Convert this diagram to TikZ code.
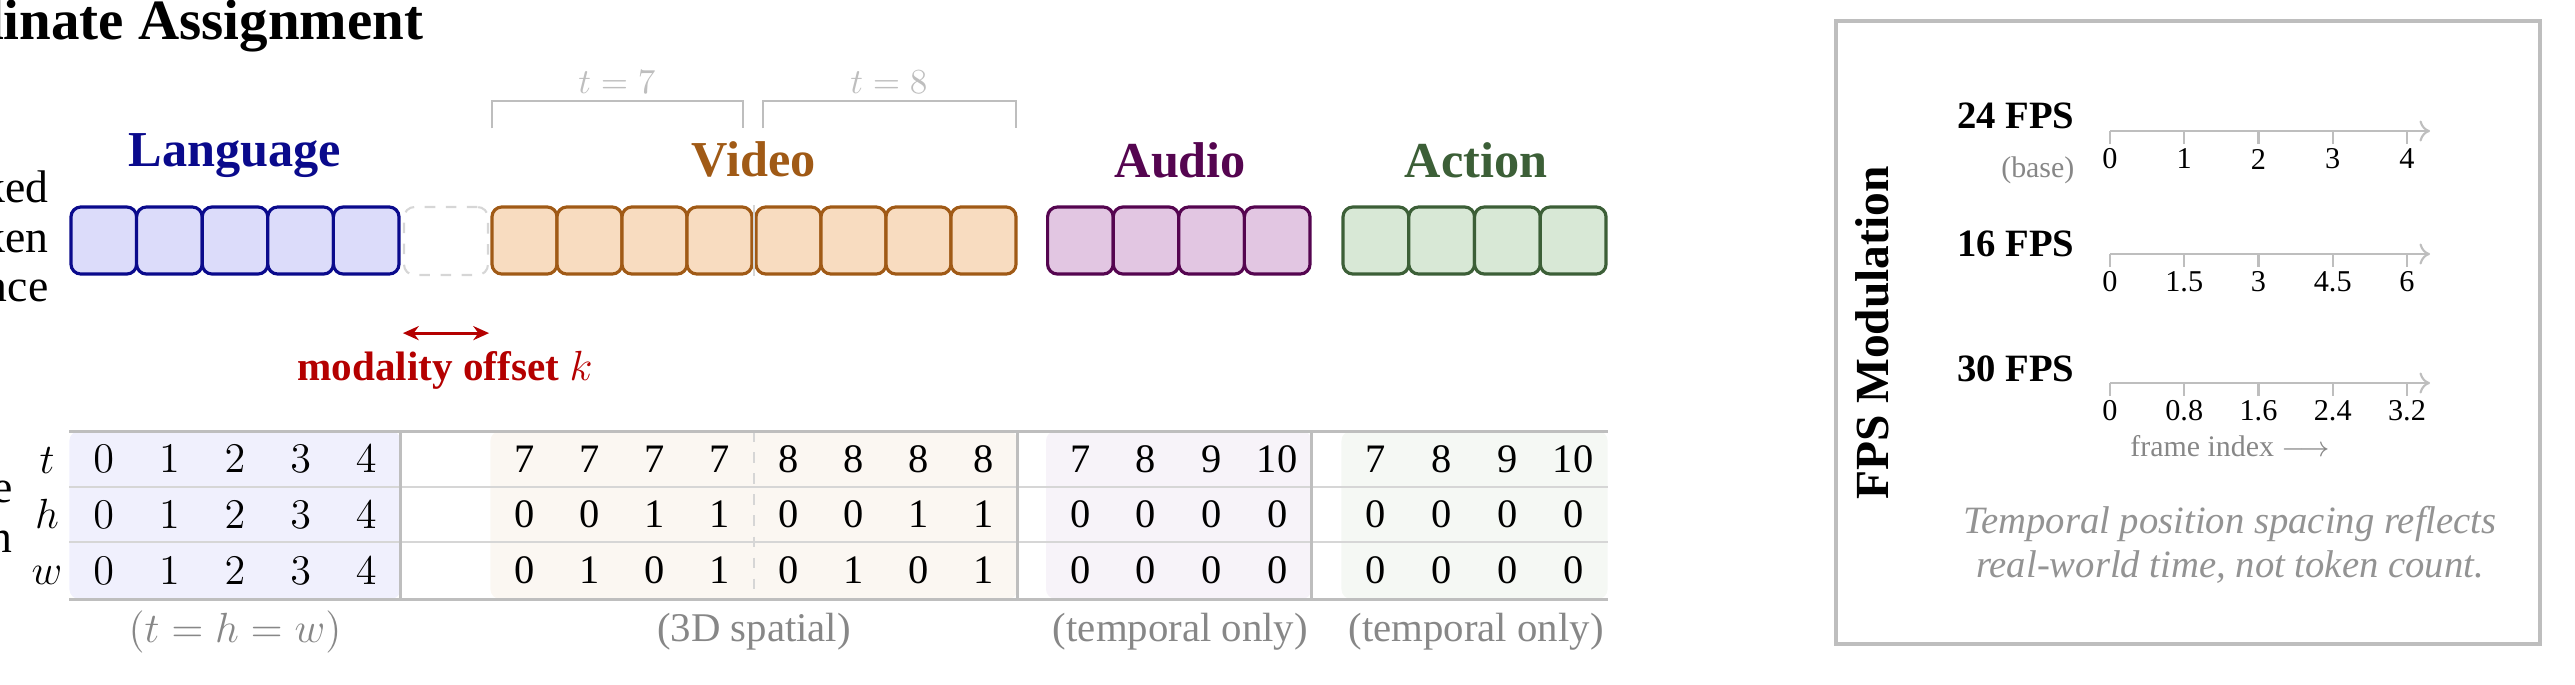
\documentclass[tikz,border=0pt]{standalone}
\usepackage{fontspec}
\setmainfont{Liberation Serif}
\usepackage{amsmath}
\usetikzlibrary{arrows.meta, positioning, calc}
\definecolor{mynavy}{RGB}{10,10,140}
\definecolor{myorange}{RGB}{160,90,22}
\definecolor{myplum}{RGB}{85,5,80}
\definecolor{mygreen}{RGB}{60,95,55}
\definecolor{myred}{RGB}{180,0,0}
\definecolor{mygray}{RGB}{190,190,190}
\definecolor{mylight}{RGB}{214,214,214}
\definecolor{mytext}{RGB}{135,135,135}
\definecolor{tokblue}{RGB}{220,220,250}
\definecolor{tokorange}{RGB}{248,220,192}
\definecolor{tokplum}{RGB}{226,198,226}
\definecolor{tokgreen}{RGB}{216,232,214}
\definecolor{tabblue}{RGB}{240,240,253}
\definecolor{taborange}{RGB}{251,247,242}
\definecolor{tabplum}{RGB}{247,243,249}
\definecolor{tabgreen}{RGB}{245,248,244}
\tikzset{
  tok/.style={draw, rectangle, rounded corners=2.8pt, line width=0.9pt, minimum width=0.65cm, minimum height=0.67cm, inner sep=0pt},
  langtok/.style={tok, draw=mynavy, fill=tokblue, minimum width=0.656cm},
  vidtok/.style={tok, draw=myorange, fill=tokorange},
  audtok/.style={tok, draw=myplum, fill=tokplum, minimum width=0.656cm},
  acttok/.style={tok, draw=mygreen, fill=tokgreen, minimum width=0.6575cm},
  gaptok/.style={tok, draw=mylight, line width=0.6pt, dash pattern=on 3pt off 3pt, rounded corners=3pt, minimum width=0.84cm, minimum height=0.68cm},
  grouplabel/.style={font=\fontsize{14.3}{16}\selectfont\bfseries, inner sep=0pt},
  titlelbl/.style={font=\fontsize{16.2}{18}\selectfont\bfseries, inner sep=0pt},
  sidelbl/.style={font=\fontsize{13}{14.2}\selectfont, align=right, inner sep=0pt},
  framelbl/.style={font=\fontsize{10}{12}\selectfont, text=mygray, inner sep=0pt},
  bracket/.style={draw=mygray, line width=0.6pt},
  offarrow/.style={draw=myred, line width=0.85pt, {Stealth[length=4.5pt,width=4pt]}-{Stealth[length=4.5pt,width=4pt]}},
  offlbl/.style={font=\fontsize{11.7}{13}\selectfont\bfseries, text=myred, inner sep=0pt},
  num/.style={font=\fontsize{11.5}{13}\selectfont, inner sep=0pt},
  rowlbl/.style={font=\fontsize{13}{15}\selectfont, anchor=base, inner sep=0pt},
  caption/.style={font=\fontsize{11.6}{13}\selectfont, text=mytext, inner sep=0pt},
  tabrule/.style={draw=mygray, line width=0.85pt},
  rowrule/.style={draw=mylight, line width=0.45pt},
  coldiv/.style={draw=mygray, line width=0.7pt},
  framediv/.style={draw=mylight, line width=0.5pt, dashed},
  panel/.style={draw=mygray, line width=0.9pt},
  paneltitle/.style={font=\fontsize{13.5}{15}\selectfont\bfseries, inner sep=0pt},
  fpslbl/.style={font=\fontsize{11}{13}\selectfont\bfseries, anchor=base east, inner sep=0pt},
  smallgray/.style={font=\fontsize{8.5}{10}\selectfont, text=mytext, inner sep=0pt},
  axisline/.style={draw=mygray, line width=0.6pt},
  ticklbl/.style={font=\fontsize{8.6}{10}\selectfont, inner sep=0pt},
  note/.style={font=\fontsize{11}{12.5}\selectfont\itshape, text=mytext!90, align=center, inner sep=0pt}
}

\begin{document}
\begin{tikzpicture}[x=0.01cm, y=-0.01cm]
  \useasboundingbox (0,0) rectangle (2575,684);
  \clip (0,0) rectangle (2575,684);

  % title and side labels
  \node[titlelbl, anchor=base east] (title) at (424,39) {Coordinate Assignment};
  \node[sidelbl, anchor=east] (seqlbl) at (49,241) {Packed\\Token\\Sequence};
  \node[sidelbl, anchor=east] (poslbl) at (13,512) {Coordinate\\Position};

  % token sequence
  \foreach \i in {1,...,5}
    \node[langtok] (lang\i) at ({103.8+(\i-1)*65.6},240.5) {};
  \foreach \i in {1,...,8}
    \node[vidtok] (vid\i) at ({524.5+(\i-1)*65+4*(\i>4)},240.5) {};
  \foreach \i in {1,...,4}
    \node[audtok] (aud\i) at ({1080.4+(\i-1)*65.6},240.5) {};
  \foreach \i in {1,...,4}
    \node[acttok] (act\i) at ({1375.9+(\i-1)*65.75},240.5) {};
  \node[gaptok] (gap) at (446,241) {};
  \coordinate (vidmid) at ($(vid4.east)!0.5!(vid5.west)$);
  \draw[framediv, solid] (vidmid |- vid4.north) -- (vidmid |- vid4.south);

  \node[grouplabel, text=mynavy, above=0.27cm of lang3] (langlbl) {Language};
  \node[grouplabel, text=myorange, above=0.27cm of vid4.north east] (vidlbl) {Video};
  \node[grouplabel, text=myplum, above=0.27cm of aud2.north east] (audlbl) {Audio};
  \node[grouplabel, text=mygreen, above=0.27cm of act2.north east] (actlbl) {Action};

  % frame brackets
  \draw[bracket] ($(vid1.north west)+(1.5,-77)$) -- ++(0,-27) -| ($(vid4.north east)+(-11,-77)$);
  \draw[bracket] ($(vid5.north west)+(9,-77)$) -- ++(0,-27) -| ($(vid8.north east)+(-1.5,-77)$);
  \node[framelbl] (t7lbl) at (617,82) {$t=7$};
  \node[framelbl] (t8lbl) at (889,82) {$t=8$};

  % modality offset
  \coordinate (offL) at ([yshift=-0.57cm]gap.south west);
  \coordinate (offR) at ([yshift=-0.57cm]gap.south east);
  \draw[offarrow] (offL) -- (offR);
  \node[offlbl] (offtxt) at (445,370) {modality offset $k$};

  % position table
  \coordinate (tabtop) at (0,431);
  \coordinate (tabbot) at (0,599);
  \coordinate (rowa) at (0,487);
  \coordinate (rowb) at (0,542);
  \coordinate (trow) at (0,459);
  \coordinate (hrow) at (0,514.5);
  \coordinate (wrow) at (0,570.5);
  \fill[tabblue, rounded corners=2.8pt] (lang1.west |- tabtop) rectangle (lang5.east |- tabbot);
  \fill[taborange, rounded corners=2.8pt] (vid1.west |- tabtop) rectangle (vid8.east |- tabbot);
  \fill[tabplum, rounded corners=2.8pt] (aud1.west |- tabtop) rectangle (aud4.east |- tabbot);
  \fill[tabgreen, rounded corners=2.8pt] (act1.west |- tabtop) rectangle (act4.east |- tabbot);
  \draw[rowrule] (lang1.west |- rowa) -- (act4.east |- rowa);
  \draw[rowrule] (lang1.west |- rowb) -- (act4.east |- rowb);
  \draw[framediv] (vidmid |- tabtop) -- (vidmid |- tabbot);
  \draw[coldiv] (lang5.east |- tabtop) -- (lang5.east |- tabbot);
  \draw[coldiv] (vid8.east |- tabtop) -- (vid8.east |- tabbot);
  \draw[coldiv] (aud4.east |- tabtop) -- (aud4.east |- tabbot);
  \draw[tabrule] (lang1.west |- tabtop) -- (act4.east |- tabtop);
  \draw[tabrule] (lang1.west |- tabbot) -- (act4.east |- tabbot);

  \node[rowlbl] (tlbl) at (47,473) {$t$};
  \node[rowlbl] (hlbl) at (47,528.5) {$h$};
  \node[rowlbl] (wlbl) at (47,584.5) {$w$};

  \foreach \v [count=\i] in {0,1,2,3,4} {
    \node[num] (lt\i) at (lang\i |- trow) {$\v$};
    \node[num] (lh\i) at (lang\i |- hrow) {$\v$};
    \node[num] (lw\i) at (lang\i |- wrow) {$\v$};
  }
  \foreach \a/\b/\c [count=\i] in {7/0/0,7/0/1,7/1/0,7/1/1,8/0/0,8/0/1,8/1/0,8/1/1} {
    \node[num] (vt\i) at (vid\i |- trow) {\a};
    \node[num] (vh\i) at (vid\i |- hrow) {\b};
    \node[num] (vw\i) at (vid\i |- wrow) {\c};
  }
  \foreach \a [count=\i] in {7,8,9,10} {
    \node[num] (at\i) at (aud\i |- trow) {\a};
    \node[num] (ah\i) at (aud\i |- hrow) {0};
    \node[num] (aw\i) at (aud\i |- wrow) {0};
    \node[num] (ct\i) at (act\i |- trow) {\a};
    \node[num] (ch\i) at (act\i |- hrow) {0};
    \node[num] (cw\i) at (act\i |- wrow) {0};
  }

  \coordinate (capy) at (0,632);
  \node[caption] (langcap) at (lang3 |- capy) {$(t = h = w)$};
  \node[caption] (vidcap) at (vidmid |- capy) {(3D spatial)};
  \node[caption] (audcap) at (aud2.east |- capy) {(temporal only)};
  \node[caption] (actcap) at (act2.east |- capy) {(temporal only)};

  % FPS panel
  \draw[panel] (1836,21) rectangle (2540,644);
  \node[paneltitle, rotate=90] (fpstitle) at (1872,333) {FPS Modulation};
  \node[fpslbl] (fps24) at (2075,128) {24 FPS};
  \node[fpslbl] (fps16) at (2075,256) {16 FPS};
  \node[fpslbl] (fps30) at (2075,381) {30 FPS};
  \node[smallgray, anchor=base east] (basenote) at (2075,177) {(base)};
  \foreach \y/\lst [count=\k] in {131/{0,1,2,3,4}, 254/{0,1.5,3,4.5,6}, 383/{0,0.8,1.6,2.4,3.2}} {
    \draw[axisline, -{To[length=3pt,width=6pt]}] (2110,\y) -- (2430,\y);
    \foreach \lab [count=\i from 0] in \lst {
      \draw[axisline] ({2110+74.25*\i},\y) -- ++(0,13);
      \node[ticklbl] (tick\k-\i) at ({2110+74.25*\i},\y+28) {\lab};
    }
  }
  \node[smallgray] (frameidx) at (2230,446) {frame index $\longrightarrow$};
  \node[note] (spacing) at (2230,545) {Temporal position spacing reflects\\real-world time, not token count.};
\end{tikzpicture}
\end{document}
